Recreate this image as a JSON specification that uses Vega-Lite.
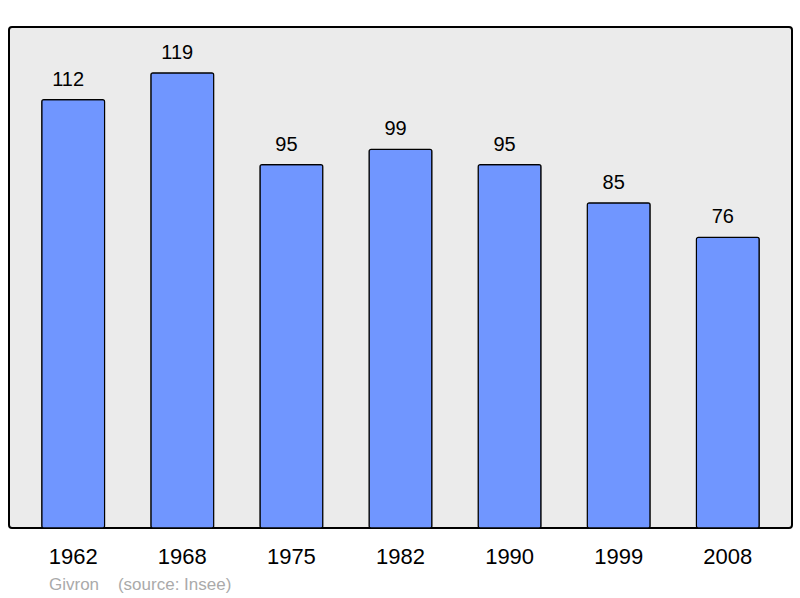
{
  "$schema": "https://vega.github.io/schema/vega-lite/v6.json",
  "autosize": "none",
  "width": 783,
  "height": 501,
  "padding": {"left": 9, "top": 27, "right": 8, "bottom": 70},
  "background": "#ffffff",
  "config": {
    "font": "Liberation Sans",
    "view": {"fill": "#ebebeb", "stroke": "#000000", "strokeWidth": 2, "cornerRadius": 3}
  },
  "title": {
    "text": "Givron\u00a0\u00a0\u00a0\u00a0(source: Insee)",
    "orient": "bottom",
    "anchor": "start",
    "dx": 40,
    "offset": 10,
    "fontSize": 17,
    "fontWeight": "normal",
    "color": "#aaaaaa",
    "font": "Liberation Sans"
  },
  "data": {
    "values": [
      {"year": "1962", "pop": 112},
      {"year": "1968", "pop": 119},
      {"year": "1975", "pop": 95},
      {"year": "1982", "pop": 99},
      {"year": "1990", "pop": 95},
      {"year": "1999", "pop": 85},
      {"year": "2008", "pop": 76}
    ]
  },
  "encoding": {
    "x": {
      "field": "year",
      "type": "ordinal",
      "scale": {"paddingInner": 0.424, "paddingOuter": 0.3},
      "axis": {
        "title": null,
        "labelAngle": 0,
        "labelFontSize": 22,
        "labelColor": "#000000",
        "labelPadding": 18,
        "ticks": false,
        "domain": false,
        "grid": false
      }
    },
    "y": {
      "field": "pop",
      "type": "quantitative",
      "scale": {"domain": [0, 131], "nice": false},
      "axis": null
    }
  },
  "layer": [
    {
      "mark": {"type": "bar", "fill": "#7096ff", "stroke": "#000000", "strokeWidth": 1.2, "cornerRadius": 2}
    },
    {
      "mark": {"type": "text", "baseline": "alphabetic", "dy": -14, "dx": -5, "fontSize": 20, "color": "#000000"},
      "encoding": {"text": {"field": "pop", "type": "quantitative"}}
    }
  ]
}
